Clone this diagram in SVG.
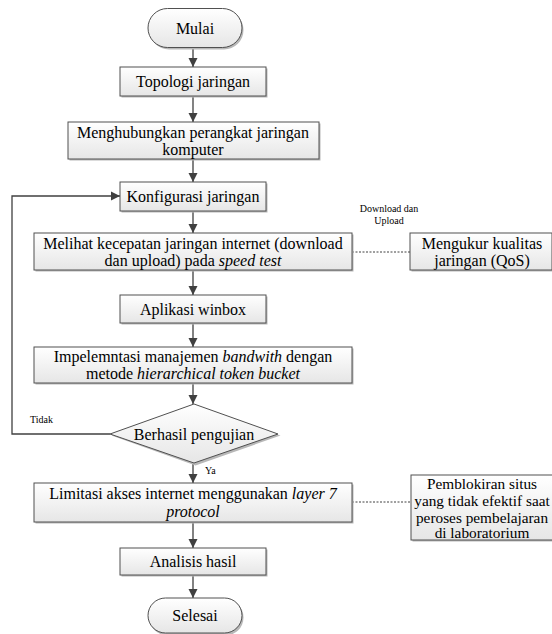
<svg xmlns="http://www.w3.org/2000/svg" width="552" height="634" viewBox="0 0 552 634">
<defs>
<linearGradient id="g" x1="0" y1="0" x2="0" y2="1">
<stop offset="0" stop-color="#ffffff"/>
<stop offset="1" stop-color="#e6e6e6"/>
</linearGradient>
<marker id="ah" markerWidth="10" markerHeight="10" refX="9" refY="5" orient="auto" markerUnits="userSpaceOnUse">
<path d="M0,0.5 L9,5 L0,9.5 Z" fill="#404040"/>
</marker>
<style>
.box{fill:url(#g);stroke:#505050;stroke-width:1}
.sh{fill:#b8b8b8}
.t{font-family:'Liberation Serif',serif;font-size:16px;fill:#000;text-anchor:middle}
.p{font-size:15.3px}
.s{font-family:'Liberation Serif',serif;font-size:10px;fill:#000}
.c{fill:none;stroke:#404040;stroke-width:1.3}
.d{fill:none;stroke:#404040;stroke-width:1;stroke-dasharray:2,1.5}
</style>
</defs>
<rect width="552" height="634" fill="#ffffff"/>

<g id="connectors">
<line class="c" x1="193" y1="47" x2="193" y2="67" marker-end="url(#ah)"/>
<line class="c" x1="193" y1="96" x2="193" y2="122" marker-end="url(#ah)"/>
<line class="c" x1="193" y1="159" x2="193" y2="182" marker-end="url(#ah)"/>
<line class="c" x1="193" y1="211" x2="193" y2="233" marker-end="url(#ah)"/>
<line class="c" x1="193" y1="270" x2="193" y2="295" marker-end="url(#ah)"/>
<line class="c" x1="193" y1="323" x2="193" y2="347" marker-end="url(#ah)"/>
<line class="c" x1="193" y1="383" x2="193" y2="404" marker-end="url(#ah)"/>
<line class="c" x1="193" y1="463" x2="193" y2="483" marker-end="url(#ah)"/>
<line class="c" x1="193" y1="522" x2="193" y2="548" marker-end="url(#ah)"/>
<line class="c" x1="193" y1="575" x2="193" y2="598" marker-end="url(#ah)"/>
<polyline class="c" points="110,434 12,434 12,196 120,196" marker-end="url(#ah)"/>
<line class="d" x1="352" y1="252" x2="410" y2="252"/>
<line class="d" x1="352" y1="502" x2="411" y2="502"/>
<text class="s" x="30" y="423">Tidak</text>
<text class="s" x="205" y="474">Ya</text>
<text class="s" x="389" y="212" text-anchor="middle">Download dan</text>
<text class="s" x="389" y="224" text-anchor="middle">Upload</text>
</g>

<g id="mulai">
<rect class="sh" x="149.5" y="10.5" width="94" height="39" rx="19.5"/>
<rect class="box" x="148" y="8.5" width="94" height="39" rx="19.5"/>
<text class="t" x="195" y="33.5">Mulai</text>
</g>

<g id="topologi">
<rect class="sh" x="121.5" y="68.5" width="146" height="29"/>
<rect class="box" x="120" y="67" width="146" height="29"/>
<text class="t" x="193" y="86.5">Topologi jaringan</text>
</g>

<g id="menghubungkan">
<rect class="sh" x="69.5" y="123.5" width="251" height="37"/>
<rect class="box" x="68" y="122" width="251" height="37"/>
<text class="t" x="193" y="137.5">Menghubungkan perangkat jaringan</text>
<text class="t" x="193" y="155">komputer</text>
</g>

<g id="konfigurasi">
<rect class="sh" x="121.5" y="183.5" width="146" height="29"/>
<rect class="box" x="120" y="182" width="146" height="29"/>
<text class="t" x="193" y="201.5">Konfigurasi jaringan</text>
</g>

<g id="melihat">
<rect class="sh" x="35.5" y="234.5" width="318" height="37"/>
<rect class="box" x="34" y="233" width="318" height="37"/>
<text class="t" x="193" y="248.5">Melihat kecepatan jaringan internet (download</text>
<text class="t" x="193" y="266">dan upload) pada <tspan font-style="italic">speed test</tspan></text>
</g>

<g id="mengukur">
<rect class="sh" x="411.5" y="234.5" width="142" height="37"/>
<rect class="box" x="410" y="233" width="142" height="37"/>
<text class="t" x="482" y="248.5">Mengukur kualitas</text>
<text class="t" x="482" y="266">jaringan (QoS)</text>
</g>

<g id="aplikasi">
<rect class="sh" x="121.5" y="296.5" width="146" height="28"/>
<rect class="box" x="120" y="295" width="146" height="28"/>
<text class="t" x="193" y="314.5">Aplikasi winbox</text>
</g>

<g id="impelemntasi">
<rect class="sh" x="35.5" y="348.5" width="318" height="36"/>
<rect class="box" x="34" y="347" width="318" height="36"/>
<text class="t" x="193" y="362">Impelemntasi manajemen <tspan font-style="italic">bandwith</tspan> dengan</text>
<text class="t" x="193" y="379">metode <tspan font-style="italic">hierarchical token bucket</tspan></text>
</g>

<g id="berhasil">
<polygon class="sh" points="195.5,405.5 280.5,435.5 195.5,465.5 111.5,435.5"/>
<polygon class="box" points="194,404 278,434 194,463 110,434"/>
<text class="t" x="194" y="439.5">Berhasil pengujian</text>
</g>

<g id="limitasi">
<rect class="sh" x="35.5" y="484.5" width="318" height="39"/>
<rect class="box" x="34" y="483" width="318" height="39"/>
<text class="t" x="193" y="499">Limitasi akses internet menggunakan <tspan font-style="italic">layer 7</tspan></text>
<text class="t" x="193" y="517" font-style="italic">protocol</text>
</g>

<g id="pemblokiran">
<rect class="sh" x="412.5" y="476.5" width="150" height="65"/>
<rect class="box" x="411" y="475" width="150" height="65"/>
<text class="t p" x="482" y="489">Pemblokiran situs</text>
<text class="t p" x="482" y="506">yang tidak efektif saat</text>
<text class="t p" x="482" y="522.5">peroses pembelajaran</text>
<text class="t p" x="482" y="538">di laboratorium</text>
</g>

<g id="analisis">
<rect class="sh" x="121.5" y="549.5" width="146" height="27"/>
<rect class="box" x="120" y="548" width="146" height="27"/>
<text class="t" x="193" y="566.5">Analisis hasil</text>
</g>

<g id="selesai">
<rect class="sh" x="149.5" y="599.5" width="94" height="36" rx="18"/>
<rect class="box" x="148" y="598" width="94" height="35" rx="17.5"/>
<text class="t" x="195" y="621">Selesai</text>
</g>
</svg>
